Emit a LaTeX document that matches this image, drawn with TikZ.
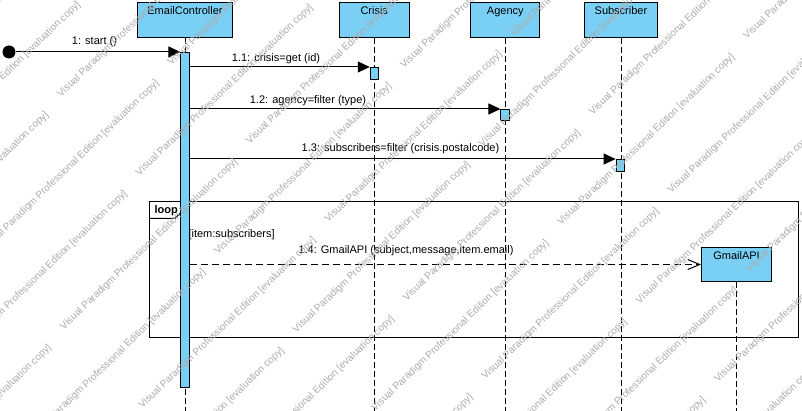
\documentclass[tikz,border=0pt]{standalone}
\usepackage{fontspec}
\setmainfont{Liberation Sans}
\usetikzlibrary{arrows.meta}
\definecolor{vpblue}{RGB}{122,207,245}
\definecolor{wmgray}{RGB}{172,172,172}
\begin{document}
\begin{tikzpicture}[x=1pt,y=-1pt,line width=1pt,
  font=\fontsize{11}{13}\selectfont,
  hdr/.style={draw=black,fill=vpblue,inner sep=0pt,anchor=north west,minimum height=35pt},
  actbar/.style={draw=black,fill=vpblue,inner sep=0pt,anchor=north,minimum width=8.5pt},
  lifeline/.style={dash pattern=on 6pt off 3pt,line width=0.9pt},
  msg/.style={-{Triangle[length=12pt,width=11pt]}},
  retmsg/.style={dash pattern=on 7pt off 4pt,-{Straight Barb[length=12pt,width=10pt]}},
  lbl/.style={anchor=base,inner sep=0pt},
  hdrtxt/.style={anchor=base,inner sep=0pt},
  wm/.style={anchor=west,inner sep=0pt,rotate=44,text=wmgray,font=\fontsize{10}{12}\selectfont}]
\useasboundingbox (0,0) rectangle (802,411);
\fill[white] (0,0) rectangle (802,411);
\coordinate (bottom) at (0,411);

% loop frame
\node[draw,inner sep=0pt,anchor=north west,minimum width=649pt,minimum height=136pt] (loop) at (149.3,201) {};
\draw (149.3,218.3) -- (175,218.3) -- (182,211.3) -- (182,201);

% headers
\node[hdr,minimum width=95pt] (ec) at (137,2) {};
\node[hdr,minimum width=69.5pt] (cr) at (339,2) {};
\node[hdr,minimum width=69pt] (ag) at (470.3,2) {};
\node[hdr,minimum width=72.5pt] (su) at (584.2,2) {};
\node[hdr,minimum width=70pt,minimum height=34pt] (gm) at (701,247) {};
\node[hdrtxt] (ect) at ([yshift=-13pt]ec.north) {EmailController};
\node[hdrtxt] (crt) at ([yshift=-13pt]cr.north) {Crisis};
\node[hdrtxt] (agt) at ([yshift=-13pt]ag.north) {Agency};
\node[hdrtxt] (sut) at ([yshift=-13pt]su.north) {Subscriber};
\node[hdrtxt] (gmt) at ([yshift=-12.5pt]gm.north) {GmailAPI};

% lifelines
\draw[lifeline] (ec.south) -- (ec.south |- bottom);
\draw[lifeline] (cr.south) -- (cr.south |- bottom);
\draw[lifeline] (ag.south) -- (ag.south |- bottom);
\draw[lifeline] (su.south) -- (su.south |- bottom);
\draw[lifeline] (gm.south) -- (gm.south |- bottom);

% activations
\node[actbar,minimum height=335pt] (ecA) at (185.2,52) {};
\node[actbar,minimum height=12pt] (crA) at (374.5,67) {};
\node[actbar,minimum height=11.5pt] (agA) at (505.2,109) {};
\node[actbar,minimum height=12pt] (suA) at (620.4,159) {};

% loop texts
\node[anchor=base west,inner sep=0pt,font=\fontsize{11}{13}\selectfont\bfseries] (looplbl) at (154,213.5) {loop};
\node[anchor=base west,inner sep=0pt] (guard) at (188,237.5) {[item:subscribers]};

% start
\node[circle,fill=black,inner sep=0pt,minimum size=13pt] (start) at (9,52) {};

% messages
\draw[msg] (start.east) -- (ecA.north west);
\draw[msg] (ecA.east |- crA.north) -- (crA.north west);
\draw[msg] (ecA.east |- agA.north) -- (agA.north west);
\draw[msg] (ecA.east |- suA.north) -- (suA.north west);
\draw[retmsg] (ecA.east |- gm.west) -- (gm.west);

% labels
\node[lbl] (m1) at (94.5,44.5) {1: start ()};
\node[lbl] (m11) at (276,61.5) {1.1: crisis=get (id)};
\node[lbl] (m12) at (308,103.5) {1.2: agency=filter (type)};
\node[lbl] (m13) at (400.5,151.5) {1.3: subscribers=filter (crisis.postalcode)};
\node[lbl] (m14) at (406,254) {1.4: GmailAPI (subject,message,item.email)};

% watermark
\begin{scope}
\clip (0,0) rectangle (802,411);
\foreach \k in {-5,...,12}{
  \foreach \m in {-3,...,3}{
    \pgfmathsetmacro\cc{312+78.5*\k}
    \pgfmathsetmacro\uu{ifthenelse(isodd(\k),105,-37)+372*\m}
    \pgfmathsetmacro\xx{(\cc+\uu)/2}
    \pgfmathsetmacro\yy{(\cc-\uu)/2}
    \pgfmathtruncatemacro\vis{and(and(\xx<800,\xx>-178),and(\yy>2,\yy<582))}
    \ifnum\vis=1
      \node[wm] (wm\k\m) at (\xx,\yy) {Visual Paradigm Professional Edition [evaluation copy]};
    \fi
  }
}
\end{scope}
\end{tikzpicture}
\end{document}
